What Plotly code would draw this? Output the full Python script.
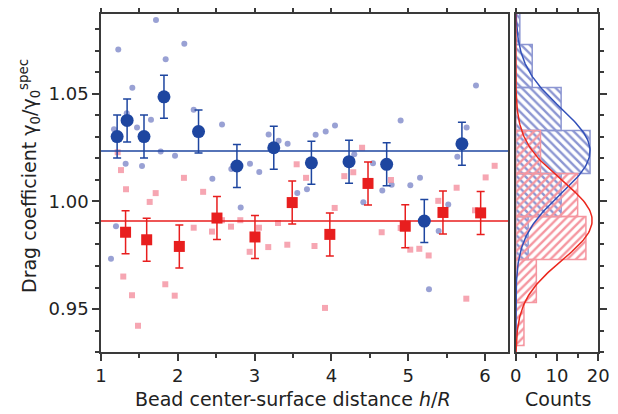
import math
import plotly.graph_objects as go

# ---------------- data ----------------
# mean values (big markers) with error bars
blue_x = [1.21, 1.34, 1.56, 1.82, 2.27, 2.77, 3.25, 3.74, 4.23, 4.72, 5.21, 5.70]
blue_y = [1.0302, 1.0377, 1.0302, 1.0487, 1.0325, 1.0165, 1.0250, 1.0180, 1.0185, 1.0173, 0.9909, 1.0268]
blue_err = [0.010, 0.010, 0.010, 0.010, 0.010, 0.010, 0.010, 0.010, 0.010, 0.010, 0.010, 0.010]

red_x = [1.32, 1.595, 2.02, 2.51, 3.005, 3.49, 3.98, 4.477, 4.962, 5.453, 5.944]
red_y = [0.9857, 0.9822, 0.9791, 0.9923, 0.9835, 0.9995, 0.9847, 1.0084, 0.9885, 0.9949, 0.9947]
red_err = [0.010, 0.010, 0.010, 0.010, 0.010, 0.010, 0.010, 0.010, 0.010, 0.010, 0.010]

# individual measurements (small faint markers)
blue_pts_x = [1.225, 1.716, 2.085, 1.842, 1.408, 2.207, 1.651, 1.335, 1.169, 1.469, 2.576,
              1.777, 1.964, 1.321, 1.534, 2.45, 2.697, 2.94, 3.061, 3.183, 3.313, 3.43,
              3.795, 3.926, 4.047, 4.902, 5.883, 5.761, 4.298, 4.542, 5.64, 5.154, 1.13,
              1.195, 2.819, 3.556, 3.682, 4.663, 4.785, 5.028, 4.416, 5.522, 5.397, 5.271]
blue_pts_y = [1.0707, 1.0844, 1.0734, 1.0662, 1.0529, 1.0427, 1.038, 1.041, 1.0336, 1.0344, 1.0358,
              1.0232, 1.0213, 1.0176, 1.0165, 1.0106, 1.0151, 1.0176, 1.0137, 1.0311, 1.0283, 1.0269,
              1.031, 1.0325, 1.0353, 1.0377, 1.0539, 1.0344, 1.022, 1.0178, 1.0208, 1.011, 0.9734,
              0.9885, 0.9972, 1.0039, 1.0057, 1.0051, 1.0078, 1.0076, 0.9997, 0.9986, 0.9863, 0.9592]

red_pts_x = [1.217, 1.26, 2.08, 3.548, 3.67, 4.40, 6.126, 6.009, 4.168, 4.285, 1.326, 1.712,
             1.634, 2.33, 2.207, 2.445, 2.576, 2.693, 2.814, 2.936, 3.057, 3.178, 3.305, 3.426,
             3.78, 1.29, 1.404, 1.482, 1.837, 1.96, 4.776, 5.631, 4.043, 5.392, 5.87, 4.655,
             4.902, 5.027, 5.145, 5.267, 3.917, 5.757]
red_pts_y = [1.0229, 1.0146, 1.011, 1.0173, 1.011, 1.025, 1.0166, 1.0112, 1.0118, 1.0136, 1.0057, 1.0039,
             0.9998, 1.0045, 0.9878, 0.986, 0.9913, 0.9883, 0.9913, 0.9766, 0.9878, 0.9788, 0.99, 0.9799,
             0.9793, 0.9651, 0.9564, 0.9422, 0.9615, 0.9562, 1.01, 1.0064, 0.997, 1.0003, 0.9959, 0.9857,
             0.9877, 0.9776, 0.978, 0.9749, 0.9505, 0.9548]

# overall means (horizontal lines)
blue_mean = 1.0235
red_mean = 0.9909

# histogram (bin centres, counts)
hist_bins = [0.943, 0.963, 0.983, 1.003, 1.023, 1.043, 1.063, 1.083]
blue_counts = [0, 0, 3, 11, 18, 11, 4, 1]
red_counts = [2, 5, 17, 15, 6, 0, 0, 0]
bin_width = 0.02

# Gaussian fit parameters (amplitude, centre, sigma)
blue_fit = dict(amp=18.0, mu=1.0235, sigma=0.0200)
red_fit = dict(amp=18.5, mu=0.9912, sigma=0.0185)

x_range = [1, 6.3]
y_range = [0.93, 1.0872]
count_range = [0, 20]

# ---------------- colours ----------------
C_BLUE = "rgb(30,70,160)"
C_RED = "rgb(232,30,30)"
C_LBLUE = "rgba(135,145,205,0.85)"
C_PINK = "rgba(245,150,165,0.85)"
C_HBLUE = "rgb(140,150,210)"
C_HPINK = "rgb(245,150,160)"
AX = "#3a3a3a"
FONT = "DejaVu Sans, Liberation Sans, Arial, sans-serif"
TXT = "#222"

fig = go.Figure()

# faint individual points
fig.add_trace(go.Scatter(x=blue_pts_x, y=blue_pts_y, mode="markers",
                         marker=dict(symbol="circle", size=6, color=C_LBLUE),
                         xaxis="x", yaxis="y", showlegend=False))
fig.add_trace(go.Scatter(x=red_pts_x, y=red_pts_y, mode="markers",
                         marker=dict(symbol="square", size=6, color=C_PINK),
                         xaxis="x", yaxis="y", showlegend=False))

# mean lines
fig.add_trace(go.Scatter(x=x_range, y=[blue_mean, blue_mean], mode="lines",
                         line=dict(color=C_BLUE, width=1.5), xaxis="x", yaxis="y", showlegend=False))
fig.add_trace(go.Scatter(x=x_range, y=[red_mean, red_mean], mode="lines",
                         line=dict(color=C_RED, width=1.5), xaxis="x", yaxis="y", showlegend=False))

# big points with error bars
fig.add_trace(go.Scatter(x=red_x, y=red_y, mode="markers",
                         marker=dict(symbol="square", size=11, color=C_RED),
                         error_y=dict(type="data", array=red_err, color=C_RED, thickness=1.5, width=4),
                         xaxis="x", yaxis="y", showlegend=False))
fig.add_trace(go.Scatter(x=blue_x, y=blue_y, mode="markers",
                         marker=dict(symbol="circle", size=13, color=C_BLUE),
                         error_y=dict(type="data", array=blue_err, color=C_BLUE, thickness=1.5, width=4),
                         xaxis="x", yaxis="y", showlegend=False))

# histograms
fig.add_trace(go.Bar(y=hist_bins, x=blue_counts, orientation="h", width=bin_width,
                     marker=dict(color=C_HBLUE, line=dict(color=C_HBLUE, width=1.5),
                                 pattern=dict(shape="\\", fillmode="replace", size=6, solidity=0.4)),
                     xaxis="x2", yaxis="y2", showlegend=False))
fig.add_trace(go.Bar(y=hist_bins, x=red_counts, orientation="h", width=bin_width,
                     marker=dict(color=C_HPINK, line=dict(color=C_HPINK, width=1.5),
                                 pattern=dict(shape="/", fillmode="replace", size=6, solidity=0.4)),
                     xaxis="x2", yaxis="y2", showlegend=False))

# Gaussian fit curves
n = 200
ys = [y_range[0] + (y_range[1] - y_range[0]) * i / (n - 1) for i in range(n)]
def gauss(p, y):
    return p["amp"] * math.exp(-((y - p["mu"]) ** 2) / (2 * p["sigma"] ** 2))
fig.add_trace(go.Scatter(x=[gauss(blue_fit, y) for y in ys], y=ys, mode="lines",
                         line=dict(color="rgb(50,80,185)", width=1.5), xaxis="x2", yaxis="y2", showlegend=False))
fig.add_trace(go.Scatter(x=[gauss(red_fit, y) for y in ys], y=ys, mode="lines",
                         line=dict(color="rgb(235,40,30)", width=1.5), xaxis="x2", yaxis="y2", showlegend=False))

# page has an 8px body margin: size the figure so that it fits the 618x414 window
OFF = 8
W, H = 618 - OFF, 414 - OFF
def fx(px):
    return (px - OFF) / W
def fy(py):
    return 1 - (py - OFF) / H

dom_y = [fy(352), fy(14)]
axis_common = dict(showgrid=False, zeroline=False, linecolor=AX, linewidth=1.5,
                   ticks="outside", tickcolor=AX, tickwidth=1.5,
                   tickfont=dict(family=FONT, size=18, color=TXT))
minor_common = dict(ticklen=4, ticks="outside", tickcolor=AX, tickwidth=1.5)

fig.update_layout(
    width=W, height=H,
    margin=dict(l=0, r=0, t=0, b=0),
    paper_bgcolor="white", plot_bgcolor="white",
    barmode="overlay",
    font=dict(family=FONT, size=18, color=TXT),
    xaxis=dict(domain=[fx(101), fx(508)], range=x_range, dtick=1, ticklen=7,
               mirror="ticks", anchor="y", automargin=False,
               minor=dict(dtick=0.5, **minor_common), **axis_common),
    yaxis=dict(domain=dom_y, range=y_range, dtick=0.05, tick0=0.95, tickformat=".2f", ticklen=7,
               mirror=True, anchor="x", automargin=False,
               minor=dict(dtick=0.01, tick0=0.95, **minor_common), **axis_common),
    xaxis2=dict(domain=[fx(515.7), fx(598.3)], range=count_range, dtick=10, ticklen=7,
                mirror="ticks", anchor="y2", automargin=False,
                minor=dict(dtick=5, **minor_common), **axis_common),
    yaxis2=dict(domain=dom_y, range=y_range, dtick=0.05, tick0=0.95, ticklen=7, side="right",
                showticklabels=False, mirror=True, anchor="x2", automargin=False,
                minor=dict(dtick=0.01, tick0=0.95, **minor_common), **axis_common),
    annotations=[
        dict(text="Bead center-surface distance <i>h</i>/<i>R</i>", x=fx(293), y=fy(399),
             xref="paper", yref="paper", showarrow=False, font=dict(family=FONT, size=19, color=TXT),
             xanchor="center", yanchor="middle"),
        dict(text="Counts", x=fx(558), y=fy(399), xref="paper", yref="paper", showarrow=False,
             font=dict(family=FONT, size=19, color=TXT), xanchor="center", yanchor="middle"),
        dict(text="Drag coefficient γ<sub>0</sub>/γ<sub>0</sub><sup>spec</sup>", x=fx(30), y=fy(176),
             xref="paper", yref="paper", showarrow=False, textangle=-90,
             font=dict(family=FONT, size=19, color=TXT), xanchor="center", yanchor="middle"),
    ],
)

fig.write_html("out.html")
